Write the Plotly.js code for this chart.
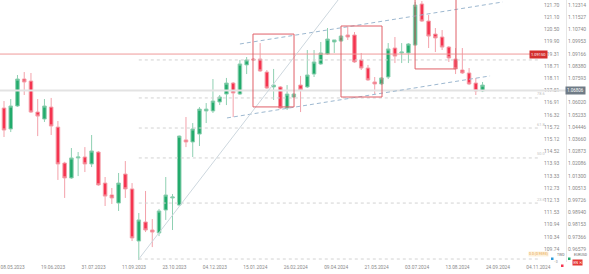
<!DOCTYPE html>
<html><head><meta charset="utf-8">
<script src="https://cdn.plot.ly/plotly-3.0.1.min.js"></script>
<style>html,body{margin:0;padding:0;background:#fff}#chart{width:589px;height:274px}</style>
</head><body><div id="chart"></div>
<script>
const dates = [
"2023-05-01","2023-05-08","2023-05-15","2023-05-22","2023-05-29","2023-06-05","2023-06-12","2023-06-19","2023-06-26","2023-07-03",
"2023-07-10","2023-07-17","2023-07-24","2023-07-31","2023-08-07","2023-08-14","2023-08-21","2023-08-28","2023-09-04","2023-09-11",
"2023-09-18","2023-09-25","2023-10-02","2023-10-09","2023-10-16","2023-10-23","2023-10-30","2023-11-06","2023-11-13","2023-11-20",
"2023-11-27","2023-12-04","2023-12-11","2023-12-18","2023-12-25","2024-01-01","2024-01-08","2024-01-15","2024-01-22","2024-01-29",
"2024-02-05","2024-02-12","2024-02-19","2024-02-26","2024-03-04","2024-03-11","2024-03-18","2024-03-25","2024-04-01","2024-04-08",
"2024-04-15","2024-04-22","2024-04-29","2024-05-06","2024-05-13","2024-05-20","2024-05-27","2024-06-03","2024-06-10","2024-06-17",
"2024-06-24","2024-07-01","2024-07-08","2024-07-15","2024-07-22","2024-07-29","2024-08-05","2024-08-12","2024-08-19","2024-08-26",
"2024-09-02","2024-09-09"];
const open = [
1.0567,1.0432,1.0580,1.0754,1.0741,1.0541,1.0496,1.0573,1.0444,1.0212,
1.0116,1.0245,1.0251,1.0206,1.0283,1.0083,1.0006,0.9954,1.0141,1.0045,
0.9709,0.9832,0.9780,0.9761,0.9909,0.9987,0.9941,1.0361,1.0348,1.0399,
1.0548,1.0548,1.0606,1.0657,1.0728,1.0657,1.0845,1.0883,1.0883,1.0799,
1.0703,1.0703,1.0567,1.0638,1.0715,1.0703,1.0786,1.0851,1.0915,1.0993,
1.0999,1.1038,1.1038,1.0877,1.0825,1.0735,1.0722,1.0767,1.0954,1.0922,
1.0922,1.0973,1.1238,1.1128,1.1044,1.1025,1.0960,1.0883,1.0812,1.0793,
1.0728,1.0677];
const high = [
1.0612,1.0625,1.0780,1.0799,1.0793,1.0625,1.0625,1.0632,1.0483,1.0220,
1.0309,1.0283,1.0315,1.0393,1.0290,1.0122,1.0051,1.0148,1.0225,1.0083,
0.9890,1.0032,0.9851,0.9916,1.0122,1.0012,1.0390,1.0509,1.0470,1.0573,
1.0599,1.0754,1.0651,1.0761,1.0735,1.0877,1.0896,1.0890,1.0986,1.0812,
1.0819,1.0709,1.0715,1.0664,1.0774,1.0941,1.0941,1.0993,1.1083,1.1006,
1.1038,1.1090,1.1057,1.0922,1.0845,1.0767,1.0767,1.0986,1.1025,1.0986,
1.0986,1.1251,1.1257,1.1167,1.1083,1.1070,1.0967,1.0954,1.0954,1.0825,
1.0761,1.0735];
const low = [
1.0380,1.0412,1.0574,1.0651,1.0535,1.0386,1.0477,1.0393,1.0103,0.9987,
1.0110,1.0128,1.0154,1.0186,1.0065,0.9935,0.9948,0.9903,0.9987,0.9709,
0.9587,0.9767,0.9670,0.9741,0.9845,0.9780,0.9935,1.0315,1.0251,1.0322,
1.0470,1.0535,1.0586,1.0586,1.0509,1.0651,1.0786,1.0870,1.0800,1.0690,
1.0619,1.0560,1.0554,1.0632,1.0541,1.0696,1.0767,1.0845,1.0909,1.0922,
1.0993,1.1006,1.0858,1.0812,1.0742,1.0657,1.0715,1.0754,1.0857,1.0857,
1.0857,1.0967,1.1122,1.0954,1.0928,1.0941,1.0864,1.0786,1.0787,1.0715,
1.0651,1.0670];
const close = [
1.0425,1.0580,1.0754,1.0735,1.0541,1.0515,1.0580,1.0451,1.0206,1.0116,
1.0245,1.0251,1.0206,1.0290,1.0071,0.9999,0.9987,1.0083,1.0045,0.9729,
0.9845,0.9780,0.9767,0.9903,1.0006,0.9993,1.0386,1.0348,1.0432,1.0560,
1.0560,1.0612,1.0638,1.0728,1.0664,1.0851,1.0877,1.0877,1.0806,1.0696,
1.0715,1.0567,1.0657,1.0657,1.0683,1.0780,1.0864,1.0922,1.1012,1.1006,
1.1031,1.1025,1.0864,1.0825,1.0748,1.0722,1.0761,1.0948,1.0902,1.0928,
1.0980,1.1231,1.1128,1.1031,1.1019,1.0960,1.0890,1.0819,1.0793,1.0722,
1.0677,1.0715];

const xTickVals = ["2023-05-10","2023-06-21","2023-08-02","2023-09-13","2023-10-25","2023-12-06","2024-01-17","2024-02-28","2024-04-10","2024-05-22","2024-07-03","2024-08-14","2024-09-25","2024-11-06"];
const xTickText = ["08.05.2023","19.06.2023","31.07.2023","11.09.2023","23.10.2023","04.12.2023","15.01.2024","26.02.2024","09.04.2024","21.05.2024","03.07.2024","13.08.2024","24.09.2024","04.11.2024"];
const rightTickVals = [1.12314,1.11527,1.10740,1.09953,1.09166,1.08380,1.07593,1.06806,1.06020,1.05233,1.04446,1.03660,1.02873,1.02086,1.01300,1.00513,0.99726,0.98940,0.98153,0.97366,0.96579];
const leftTickVals = [121.70,121.10,120.50,119.90,119.31,118.71,118.11,117.51,116.91,116.32,115.72,115.12,114.52,113.93,113.33,112.73,112.13,111.53,110.94,110.34,109.74];

// drawings (data coordinates)
const fibStart = "2023-09-18", fibEnd = "2024-11-08";
const fibLevels = [1.0877, 1.0632, 1.0438, 1.0245, 0.9954, 0.9593];
const fibLabels = ["", "78.6", "61.8", "50.0", "23.6", ""];
const boxes = [
  {x0:"2024-01-14 14:00", x1:"2024-02-26 05:00", y0:1.0574, y1:1.1044},
  {x0:"2024-04-15 00:00", x1:"2024-05-27 14:00", y0:1.0638, y1:1.1096},
  {x0:"2024-06-30 22:00", x1:"2024-08-12 10:00", y0:1.0819, y1:1.1320}
];
const channelUpper = {x0:"2024-01-01", y0:1.0980, x1:"2024-09-30", y1:1.1251};
const channelLower = {x0:"2023-12-18 14:00", y0:1.0503, x1:"2024-09-16 19:00", y1:1.0774};
const trendLine = {x0:"2023-09-18", y0:0.9593, x1:"2024-04-12", y1:1.1264};
const redLevel = 1.0915;
const lastPrice = 1.06806;

const W = 589, PH = 262;            // paper width, plot-area height
const px = v => v / W, py = v => 1 - v / PH;
const shapes = [];
fibLevels.forEach(v => shapes.push({type:'line', xref:'x', yref:'y', x0:fibStart, x1:fibEnd, y0:v, y1:v,
  line:{color:'#d2d2d2', width:1, dash:'3px,3px'}}));
shapes.push({type:'line', xref:'paper', yref:'y', x0:0, x1:px(532), y0:redLevel, y1:redLevel, line:{color:'#ef9a9a', width:1}});
shapes.push({type:'line', xref:'paper', yref:'y', x0:0, x1:px(567), y0:lastPrice, y1:lastPrice, line:{color:'#e3e3e3', width:2}});
[channelUpper, channelLower].forEach(c => shapes.push({type:'line', xref:'x', yref:'y', x0:c.x0, y0:c.y0, x1:c.x1, y1:c.y1,
  line:{color:'#9db8d0', width:1, dash:'4px,3px'}}));
shapes.push({type:'line', xref:'x', yref:'y', x0:trendLine.x0, y0:trendLine.y0, x1:trendLine.x1, y1:trendLine.y1,
  line:{color:'#cdd7de', width:1}});
boxes.forEach(b => shapes.push({type:'rect', xref:'x', yref:'y', x0:b.x0, x1:b.x1, y0:b.y0, y1:b.y1,
  line:{color:'#e06068', width:1}, fillcolor:'rgba(0,0,0,0)'}));
// legend swatches
shapes.push({type:'rect', xref:'paper', yref:'paper', x0:px(551), x1:px(553.5), y0:py(260), y1:py(257.5), line:{width:0}, fillcolor:'#2d9cdb'});
shapes.push({type:'rect', xref:'paper', yref:'paper', x0:px(568), x1:px(570.5), y0:py(260), y1:py(257.5), line:{width:0}, fillcolor:'#22ab6c'});
shapes.push({type:'rect', xref:'paper', yref:'paper', x0:px(561), x1:px(563.5), y0:py(267), y1:py(264.5), line:{width:0}, fillcolor:'#f5334f'});

const annotations = [
  {xref:'paper', yref:'y', x:px(538.5), y:redLevel, text:'1.09150', showarrow:false,
   font:{size:4, color:'#fff'}, bgcolor:'#d32f2f', borderpad:1, xanchor:'center'},
  {xref:'paper', yref:'y', x:px(575), y:lastPrice, text:'1.06806', showarrow:false,
   font:{size:4.5, color:'#fff'}, bgcolor:'#6f7b86', borderpad:1, xanchor:'center'},
  {xref:'paper', yref:'paper', x:px(538), y:py(257), text:'0.0 (0.9593)', showarrow:false,
   font:{size:3.5, color:'#e8a33d'}, bgcolor:'#fdf1dc', borderpad:0, xanchor:'center'},
  {xref:'paper', yref:'paper', x:px(554.5), y:py(258.8), text:'TWD', showarrow:false, xanchor:'left',
   font:{size:3.5, color:'#666'}},
  {xref:'paper', yref:'paper', x:px(571.5), y:py(258.8), text:'EURUSD', showarrow:false, xanchor:'left',
   font:{size:3.5, color:'#666'}},
  {xref:'paper', yref:'paper', x:px(552), y:py(265.8), text:'· 0', showarrow:false, xanchor:'left',
   font:{size:3.5, color:'#888'}},
  {xref:'paper', yref:'paper', x:px(577), y:py(265.8), text:'EN ✕', showarrow:false, xanchor:'center',
   font:{size:3.5, color:'#fff'}, bgcolor:'#e53935', borderpad:0.5}
];
fibLevels.forEach((v,i) => { if (fibLabels[i]) annotations.push({xref:'paper', yref:'y', x:px(541), y:v, yshift:4,
  text:fibLabels[i], showarrow:false, xanchor:'center', font:{size:4, color:'#c4c4c4'}}); });

const traces = [
  {type:'candlestick', x:dates, open:open, high:high, low:low, close:close, xaxis:'x', yaxis:'y',
   increasing:{line:{color:'#8fd0b2', width:1}, fillcolor:'#22ab6c'},
   decreasing:{line:{color:'#f3a1aa', width:1}, fillcolor:'#f5334f'},
   hoverinfo:'skip', showlegend:false},
  {type:'scatter', x:[dates[0]], y:[115], yaxis:'y2', mode:'markers', marker:{opacity:0}, hoverinfo:'skip', showlegend:false}
];

const layout = {
  width:589, height:274, margin:{l:0, r:0, t:0, b:12}, paper_bgcolor:'#fff', plot_bgcolor:'#fff',
  showlegend:false, boxgap:0.25,
  font:{family:'Roboto, Arial, sans-serif', size:5, color:'#8a8a8a'},
  xaxis:{type:'date', domain:[0, px(545)], range:["2023-04-26 20:24","2024-11-12 20:24"],
    tickmode:'array', tickvals:xTickVals, ticktext:xTickText, showgrid:false, zeroline:false, ticklabeloverflow:'allow',
    ticks:'outside', ticklen:0, tickfont:{size:4.8, color:'#8a8a8a'}, rangeslider:{visible:false}, fixedrange:true},
  yaxis:{range:[0.95738, 1.12637], side:'right', anchor:'free', position:px(566), showgrid:false, zeroline:false,
    showline:true, linecolor:'#e6e6e6', linewidth:1, tickmode:'array', tickvals:rightTickVals,
    ticktext:rightTickVals.map(v => v === 1.06806 ? '' : v.toFixed(5)), ticks:'', tickfont:{size:5, color:'#8a8a8a'}},
  yaxis2:{range:[109.103, 121.945], overlaying:'y', side:'right', anchor:'free', position:px(543), showgrid:false,
    zeroline:false, showline:false, tickmode:'array', tickvals:leftTickVals,
    ticktext:leftTickVals.map(v=>v.toFixed(2)), ticks:'', tickfont:{size:5, color:'#8a8a8a'}},
  shapes:shapes, annotations:annotations
};
Plotly.newPlot('chart', traces, layout, {staticPlot:true, displayModeBar:false});
</script></body></html>
